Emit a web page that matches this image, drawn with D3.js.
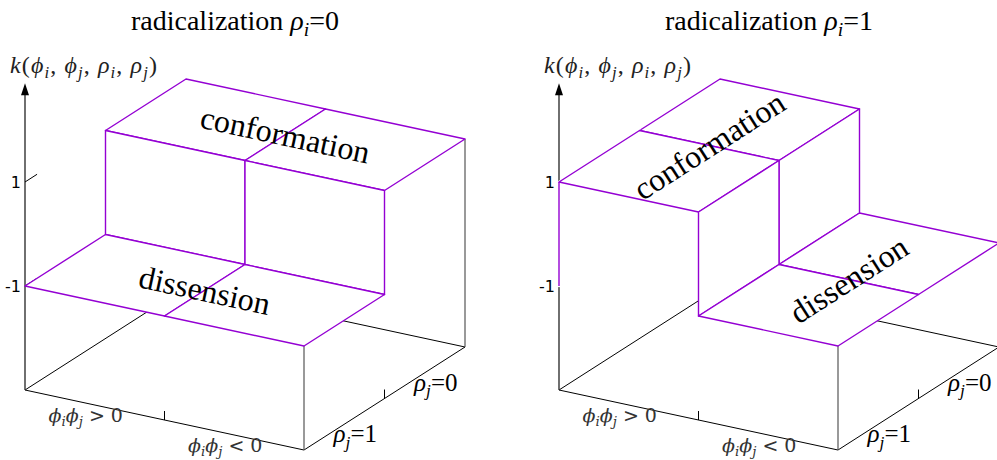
<!DOCTYPE html>
<html>
<head>
<meta charset="utf-8">
<script src="https://cdn.jsdelivr.net/npm/d3@7"></script>
<style>
  body { margin: 0; background: #fff; }
  text { font-family: "Liberation Serif", "DejaVu Serif", serif; white-space: pre; }
  .tick-label { font-family: "DejaVu Sans", sans-serif; }
  .math-label { font-family: "DejaVu Serif", serif; }
</style>
</head>
<body>
<script>
// categories on the two floor axes
const phiCats = ['ϕ_iϕ_j > 0', 'ϕ_iϕ_j < 0'];
const rhoJCats = ['ρ_j=1', 'ρ_j=0'];
// one panel per value of rho_i
const rhoIValues = [0, 1];
// k for each cell, indexed [phi][rhoJ]
const kRhoI0 = [[-1, 1], [-1, 1]];
const kRhoI1 = [[1, 1], [-1, -1]];
const zTicks = [-1, 1];
const regionLevels = [1, -1];
const regionNames = ['conformation', 'dissension'];
const zLabel = 'k(ϕ_i, ϕ_j, ρ_i, ρ_j)';

const width = 997, height = 460;
const zDomain = [-3, 3];
const zArrowTip = 2.9;
const panelOrigins = [25, 559];
const baseY = 390;
const surfaceColor = '#9400d3';

const svg = d3.select('body').append('svg')
  .attr('width', width)
  .attr('height', height);

svg.append('rect').attr('width', width).attr('height', height).attr('fill', '#fff');

// writes "a_b" style strings with subscripts, greek (or all letters in math mode) in italic
function rich(sel, str, size, math) {
  const re = /_(.)|([A-Za-z\u03b1-\u03c9\u03d5]+)|([^_A-Za-z\u03b1-\u03c9\u03d5]+)/g;
  const shift = size * 0.22;
  let m, down = false;
  while ((m = re.exec(str)) !== null) {
    const t = sel.append('tspan');
    if (m[1]) {
      t.text(m[1]).attr('font-style', 'italic').attr('font-size', size * 0.7).attr('dy', shift);
      down = true;
    } else {
      const italic = m[2] && (math || /[\u03b1-\u03c9\u03d5]/.test(m[2]));
      t.text(m[2] || m[3]).attr('font-style', italic ? 'italic' : 'normal').attr('font-size', size);
      if (down) { t.attr('dy', -shift); down = false; }
    }
  }
  return sel;
}

function drawPanel(g, ox, k, rhoI) {
  const nx = phiCats.length, ny = rhoJCats.length;
  const z0 = zDomain[0];

  // oblique projection built from plain linear scales
  const xPx = d3.scaleLinear([0, nx], [0, 279]);
  const xPy = d3.scaleLinear([0, nx], [0, 60]);
  const yPx = d3.scaleLinear([0, ny], [0, 161]);
  const yPy = d3.scaleLinear([0, ny], [0, -103]);
  const zPy = d3.scaleLinear(zDomain, [0, -312]);
  const P = (x, y, z) => [ox + xPx(x) + yPx(y), baseY + xPy(x) + yPy(y) + zPy(z)];
  const depth = (x, y) => xPy(x) + yPy(y);
  const line = d3.line();

  // floor
  g.append('path')
    .attr('d', line([P(0, 0, z0), P(nx, 0, z0), P(nx, ny, z0), P(0, ny, z0)]) + 'Z')
    .attr('fill', 'none')
    .attr('stroke', '#000')
    .attr('stroke-width', 1);

  d3.range(1, nx).forEach(i => {
    const [x, y] = P(i, 0, z0);
    g.append('line').attr('x1', x).attr('y1', y).attr('x2', x).attr('y2', y - 9)
      .attr('stroke', '#000');
  });
  d3.range(1, ny).forEach(j => {
    const [x, y] = P(nx, j, z0);
    g.append('line').attr('x1', x).attr('y1', y).attr('x2', x).attr('y2', y - 9)
      .attr('stroke', '#000');
  });

  // z axis with arrow
  const [ax, ay0] = P(0, 0, z0);
  const [, ay1] = P(0, 0, zArrowTip);
  g.append('line')
    .attr('x1', ax).attr('y1', ay0).attr('x2', ax).attr('y2', ay1 + 8)
    .attr('stroke', '#333').attr('stroke-width', 1.4);
  g.append('path')
    .attr('d', `M${ax},${ay1} L${ax - 4},${ay1 + 12} L${ax + 4},${ay1 + 12} Z`)
    .attr('fill', '#000');

  zTicks.forEach(t => {
    const [x1, y1] = P(0, 0, t);
    const [x2, y2] = P(0, 0.15, t);
    g.append('line').attr('x1', x1).attr('y1', y1).attr('x2', x2).attr('y2', y2)
      .attr('stroke', '#000');
    g.append('text')
      .attr('class', 'tick-label')
      .attr('x', x1 - 4)
      .attr('y', y1 + 6)
      .attr('text-anchor', 'end')
      .attr('font-size', 16)
      .text(t);
  });

  // vertical border lines from the floor to the surface corners
  [[nx, 0, k[nx - 1][0]], [nx, ny, k[nx - 1][ny - 1]], [0, ny, k[0][ny - 1]]].forEach(([x, y, top]) => {
    const [x1, y1] = P(x, y, z0);
    const [x2, y2] = P(x, y, top);
    g.append('line').attr('x1', x1).attr('y1', y1).attr('x2', x2).attr('y2', y2)
      .attr('stroke', '#555').attr('stroke-width', 1.2);
  });

  // surface faces: cell tops, step walls, left edge drop
  const floorLevel = d3.min(k.flat());
  const faces = [];
  k.forEach((col, i) => col.forEach((v, j) => {
    faces.push({ pts: [P(i, j, v), P(i + 1, j, v), P(i + 1, j + 1, v), P(i, j + 1, v)], d: depth(i + 0.5, j + 0.5) });
    if (i > 0 && k[i - 1][j] !== v) {
      const a = k[i - 1][j];
      faces.push({ pts: [P(i, j, a), P(i, j + 1, a), P(i, j + 1, v), P(i, j, v)], d: depth(i, j + 0.5) });
    }
    if (j > 0 && k[i][j - 1] !== v) {
      const a = k[i][j - 1];
      faces.push({ pts: [P(i, j, a), P(i + 1, j, a), P(i + 1, j, v), P(i, j, v)], d: depth(i + 0.5, j) });
    }
    if (i === 0 && v !== floorLevel) {
      faces.push({
        pts: [P(0, j, floorLevel), P(0, j + 1, floorLevel), P(0, j + 1, v), P(0, j, v)],
        d: depth(0, j + 0.5),
        hidden: true,
        edge: j === 0 ? [P(0, 0, floorLevel), P(0, 0, v)] : null
      });
    }
  }));

  faces.sort((a, b) => a.d - b.d).forEach(f => {
    g.append('path')
      .attr('d', line(f.pts) + 'Z')
      .attr('fill', '#fff')
      .attr('stroke', f.hidden ? '#fff' : surfaceColor)
      .attr('stroke-width', f.hidden ? 2.5 : 1.4)
      .attr('stroke-linejoin', 'round');
    if (f.edge) {
      g.append('path').attr('d', line(f.edge))
        .attr('stroke', surfaceColor).attr('stroke-width', 1.4);
    }
  });

  // region names laid on the surface
  regionLevels.forEach((level, r) => {
    const cells = [];
    k.forEach((col, i) => col.forEach((v, j) => { if (v === level) cells.push([i, j]); }));
    if (!cells.length) return;
    const cx = d3.mean(cells, c => c[0]) + 0.5;
    const cy = d3.mean(cells, c => c[1]) + 0.5;
    const alongX = new Set(cells.map(c => c[1])).size === 1;
    const [a0x, a0y] = P(0, 0, 0);
    const [a1x, a1y] = alongX ? P(1, 0, 0) : P(0, 1, 0);
    const angle = Math.atan2(a1y - a0y, a1x - a0x) * 180 / Math.PI;
    const [tx, ty] = P(cx, cy, level);
    g.append('text')
      .attr('transform', `translate(${tx},${ty}) rotate(${angle})`)
      .attr('text-anchor', 'middle')
      .attr('dominant-baseline', 'central')
      .attr('font-size', 32)
      .text(regionNames[r]);
  });

  // category labels
  phiCats.forEach((c, i) => {
    const [x, y] = P(i + 0.5, 0, z0);
    rich(g.append('text').attr('class', 'math-label').attr('x', x - 9).attr('y', y + 17)
      .attr('text-anchor', 'middle').attr('fill', '#333'),
      c, 19, true);
  });
  rhoJCats.forEach((c, j) => {
    const [x, y] = P(nx, j + 0.5, z0);
    rich(g.append('text').attr('x', x + 11).attr('y', y + 18).attr('text-anchor', 'middle'),
      c, 25, false);
  });

  // title and z label
  rich(g.append('text').attr('x', ox + 210).attr('y', 30).attr('text-anchor', 'middle'),
    `radicalization ρ_i=${rhoI}`, 28, false);
  rich(g.append('text').attr('x', ox - 15).attr('y', 73).attr('fill', '#222')
    .attr('textLength', 147).attr('lengthAdjust', 'spacing'),
    zLabel, 24, true);
}

[kRhoI0, kRhoI1].forEach((k, p) => {
  drawPanel(svg.append('g'), panelOrigins[p], k, rhoIValues[p]);
});
</script>
</body>
</html>
